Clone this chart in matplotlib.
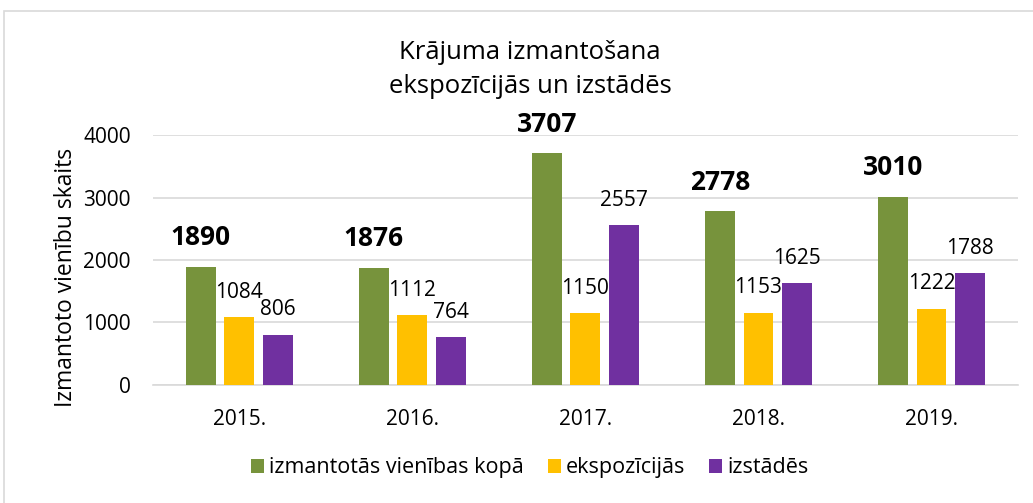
import matplotlib
matplotlib.use('Agg')
import matplotlib.pyplot as plt
import numpy as np
from matplotlib.patches import Rectangle

years = ['2015.', '2016.', '2017.', '2018.', '2019.']
total = [1890, 1876, 3707, 2778, 3010]
expo = [1084, 1112, 1150, 1153, 1222]
exhib = [806, 764, 2557, 1625, 1788]
series_names = ['izmantotās vienības kopā', 'ekspozīcijās', 'izstādēs']
colors = ['#77933C', '#FFC000', '#7030A0']

plt.rcParams['font.family'] = ['Open Sans', 'DejaVu Sans']

fig = plt.figure(figsize=(10.33, 5.03), dpi=100)
ax = fig.add_axes([0.148, 0.2346, 0.8375, 0.497])

# chart frame
fig.add_artist(Rectangle((0.004, -0.1), 1.2, 1.078, transform=fig.transFigure,
                         fill=False, edgecolor='#D9D9D9', linewidth=1.2))

x = np.arange(len(years))
w = 0.173
step = 0.223
data = [total, expo, exhib]
for i, (vals, c, name) in enumerate(zip(data, colors, series_names)):
    pos = x + (i - 1) * step
    ax.bar(pos, vals, width=w, color=c, label=name, zorder=3)
    for p, v in zip(pos, vals):
        if i == 0:
            ax.annotate(str(v), (p, v), xytext=(0, 21), textcoords='offset points',
                        ha='center', va='center', fontsize=19, fontweight='bold')
        else:
            ax.annotate(str(v), (p, v), xytext=(0, 18), textcoords='offset points',
                        ha='center', va='center', fontsize=15)

ax.set_xlim(-0.5, len(years) - 0.5)
ax.set_ylim(0, 4000)
ax.set_yticks([0, 1000, 2000, 3000, 4000])
ax.set_xticks(x)
ax.set_xticklabels(years)
ax.tick_params(axis='both', length=0, labelsize=15, colors='black')
ax.tick_params(axis='y', pad=16)
ax.tick_params(axis='x', pad=17)
ax.grid(axis='y', color='#D9D9D9', linewidth=1.2, zorder=0)
for s in ['top', 'right', 'left']:
    ax.spines[s].set_visible(False)
ax.spines['bottom'].set_color('#D9D9D9')
ax.spines['bottom'].set_linewidth(1.2)

ax.set_ylabel('Izmantoto vienību skaits', fontsize=16.5)
ax.yaxis.set_label_coords(-0.087, 0.43)
fig.text(0.513, 0.862, 'Krājuma izmantošana\nekspozīcijās un izstādēs',
         ha='center', va='center', fontsize=18.5, linespacing=1.5)

fig.legend(loc='center', bbox_to_anchor=(0.513, 0.07), ncol=3, frameon=False,
           fontsize=15.5, handlelength=0.6, handleheight=0.6, handletextpad=0.25,
           columnspacing=1.1)

fig.savefig('out.png', dpi=100)
